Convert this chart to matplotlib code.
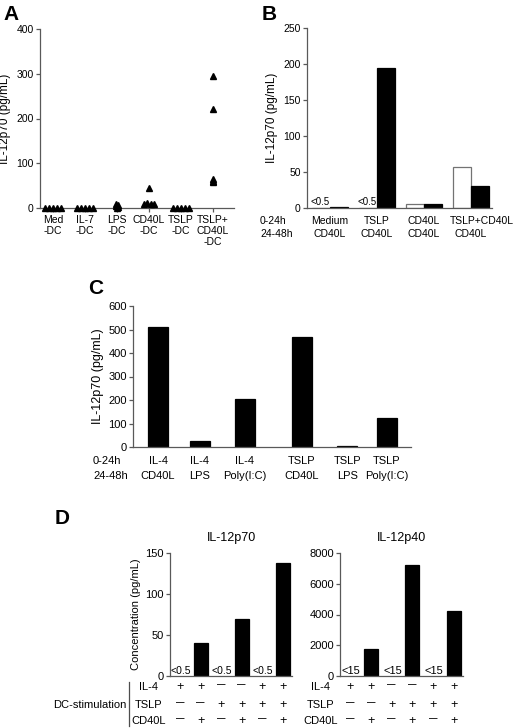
import matplotlib
matplotlib.use("Agg")
import matplotlib.pyplot as plt
import matplotlib.transforms as mtrans
import numpy as np

plt.rcParams['font.family'] = ['Liberation Sans', 'DejaVu Sans']
plt.rcParams['axes.linewidth'] = 0.9
plt.rcParams['axes.edgecolor'] = '0.35'

W, H = 520, 728

# ---- data ----
# A: IL-12p70 per DC condition (5 donors each)
a_labels = ['Med\n-DC', 'IL-7\n-DC', 'LPS\n-DC', 'CD40L\n-DC', 'TSLP\n-DC', 'TSLP+\nCD40L\n-DC']
a_values = [
    [0, 0, 0, 0, 0],
    [0, 0, 0, 0, 0],
    [10, 7, 4, 2, 1],
    [45, 10, 12, 8, 10],
    [0, 0, 0, 0, 0],
    [295, 222, 65, 60, 58],
]

# B: 0-24h / 24-48h, white = 0-24h supernatant, black = 24-48h
b_row1 = ['Medium', 'TSLP', 'CD40L', 'TSLP+CD40L']
b_row2 = ['CD40L', 'CD40L', 'CD40L', 'CD40L']
b_first = [0, 0, 5, 57]
b_second = [2, 195, 6, 30]
b_below = ['<0.5', '<0.5', None, None]

# C
c_row1 = ['IL-4', 'IL-4', 'IL-4', 'TSLP', 'TSLP', 'TSLP']
c_row2 = ['CD40L', 'LPS', 'Poly(I:C)', 'CD40L', 'LPS', 'Poly(I:C)']
c_values = [510, 25, 205, 470, 3, 122]

# D
d_il4 = ['+', '+', '−', '−', '+', '+']
d_tslp = ['−', '−', '+', '+', '+', '+']
d_cd40l = ['−', '+', '−', '+', '−', '+']
d_p70 = [None, 40, None, 70, None, 138]
d_p40 = [None, 1750, None, 7200, None, 4200]
d_p70_lod = '<0.5'
d_p40_lod = '<15'

# ---- layout helpers (pixel coords) ----
def rect(x0, y0, x1, y1):
    return [x0 / W, 1 - y1 / H, (x1 - x0) / W, (y1 - y0) / H]

def fy(py):
    return 1 - py / H

fig = plt.figure(figsize=(W / 100, H / 100), dpi=100)
fig.patch.set_facecolor('white')

def style(ax, fs=7.5):
    for s in ['top', 'right']:
        ax.spines[s].set_visible(False)
    ax.tick_params(axis='y', direction='out', length=3, width=0.9, color='0.35',
                   labelsize=fs, pad=1.5)
    ax.tick_params(axis='x', direction='out', length=3, width=0.9, color='0.35',
                   labelsize=fs, pad=2)

# ---- A ----
axA = fig.add_axes(rect(40, 29, 234, 208))
style(axA)
jit_spread = [-0.24, -0.12, 0, 0.12, 0.24]
jit_lps = [-0.02, 0.03, -0.03, 0.02, 0]
jit_cd40 = [0, -0.15, -0.05, 0.05, 0.15]
jit_center = [0, 0, 0, 0, 0]
jitters = [jit_spread, jit_spread, jit_lps, jit_cd40, jit_spread, jit_center]
for i, vals in enumerate(a_values):
    axA.plot(i + np.array(jitters[i]), vals, linestyle='none', marker='^',
             ms=5, color='black', clip_on=False, zorder=3)
axA.set_xlim(-0.41, 5.66)
axA.set_ylim(0, 400)
axA.set_yticks([0, 100, 200, 300, 400])
axA.set_xticks(range(6))
axA.set_xticklabels(a_labels, fontsize=7.5, linespacing=1.15)
axA.set_ylabel('IL-12p70 (pg/mL)', fontsize=8.5, labelpad=4)
fig.text(3 / W, fy(15), 'A', fontsize=15, fontweight='bold', va='center')

# ---- B ----
axB = fig.add_axes(rect(307, 28, 492, 208))
style(axB)
xb = np.arange(4)
bw = 0.38
axB.bar(xb - bw / 2, b_first, bw, color='white', edgecolor='0.45', linewidth=0.9)
axB.bar(xb + bw / 2, b_second, bw, color='black', edgecolor='black', linewidth=0.9)
for i, t in enumerate(b_below):
    if t:
        axB.text(xb[i] - bw / 2 - 0.02, 1, t, ha='center', va='bottom', fontsize=7)
axB.set_xlim(-0.49, 3.45)
axB.set_ylim(0, 250)
axB.set_yticks([0, 50, 100, 150, 200, 250])
axB.set_xticks([])
axB.set_ylabel('IL-12p70 (pg/mL)', fontsize=8.5, labelpad=4)
trB = mtrans.blended_transform_factory(axB.transData, fig.transFigure)
b_shift = [0, 0, 0, 0.23]
for i in range(4):
    fig.text(xb[i] + b_shift[i], fy(221), b_row1[i], transform=trB, ha='center', va='center', fontsize=7.5)
    fig.text(xb[i], fy(234), b_row2[i], transform=trB, ha='center', va='center', fontsize=7.5)
fig.text(260 / W, fy(221), '0-24h', ha='left', va='center', fontsize=7.5)
fig.text(260 / W, fy(234), '24-48h', ha='left', va='center', fontsize=7.5)
fig.text(262 / W, fy(15), 'B', fontsize=15, fontweight='bold', va='center')

# ---- C ----
axC = fig.add_axes(rect(133, 306, 411, 447))
style(axC, fs=8)
xc = np.array([0, 0.95, 1.97, 3.27, 4.3, 5.2])
axC.bar(xc, c_values, 0.45, color='black', edgecolor='black', linewidth=0.9)
axC.set_xlim(-0.57, 5.75)
axC.set_ylim(0, 600)
axC.set_yticks(range(0, 601, 100))
axC.set_xticks([])
axC.set_ylabel('IL-12p70 (pg/mL)', fontsize=9, labelpad=3)
trC = mtrans.blended_transform_factory(axC.transData, fig.transFigure)
for i in range(6):
    fig.text(xc[i], fy(461), c_row1[i], transform=trC, ha='center', va='center', fontsize=8)
    fig.text(xc[i], fy(476), c_row2[i], transform=trC, ha='center', va='center', fontsize=8)
fig.text(93 / W, fy(461), '0-24h', ha='left', va='center', fontsize=8)
fig.text(93 / W, fy(476), '24-48h', ha='left', va='center', fontsize=8)
fig.text(88 / W, fy(289), 'C', fontsize=15, fontweight='bold', va='center')

# ---- D ----
def panel_d(box, values, lod, ymax, yticks, title, ylabel, lab_x, lod_fs):
    ax = fig.add_axes(rect(*box))
    style(ax, fs=8)
    xd = np.arange(6)
    for i, v in enumerate(values):
        if v is None:
            ax.text(xd[i] + 0.05, ymax * 0.003, lod, ha='center', va='bottom', fontsize=lod_fs)
        else:
            ax.bar(xd[i], v, 0.68, color='black', edgecolor='black', linewidth=0.9)
    ax.set_xlim(-0.49, 5.45)
    ax.set_ylim(0, ymax)
    ax.set_yticks(yticks)
    ax.set_xticks([])
    ax.set_title(title, fontsize=9, pad=9)
    if ylabel:
        ax.set_ylabel(ylabel, fontsize=8, labelpad=3)
    tr = mtrans.blended_transform_factory(ax.transData, fig.transFigure)
    rows = [('IL-4', d_il4, 687), ('TSLP', d_tslp, 705), ('CD40L', d_cd40l, 721)]
    for name, signs, py in rows:
        fig.text(lab_x / W, fy(py), name, ha='center', va='center', fontsize=8)
        for i, s in enumerate(signs):
            if s == '+':
                fig.text(xd[i], fy(py), s, transform=tr, ha='center', va='center', fontsize=9)
            else:
                fig.text(xd[i], fy(py - 2.5), '–', transform=tr, ha='center', va='center',
                         fontsize=11, color='0.15')
    return ax

panel_d((170, 553, 292, 676), d_p70, d_p70_lod, 150, [0, 50, 100, 150],
        'IL-12p70', 'Concentration (pg/mL)', 149, 7.5)
panel_d((340, 553, 463, 676), d_p40, d_p40_lod, 8000, [0, 2000, 4000, 6000, 8000],
        'IL-12p40', None, 321, 8)
fig.add_artist(plt.Line2D([129 / W, 129 / W], [fy(682), fy(726)], color='0.3', lw=0.9))
fig.text(127 / W, fy(705), 'DC-stimulation', ha='right', va='center', fontsize=8)
fig.text(55 / W, fy(518), 'D', fontsize=15, fontweight='bold', va='center')

fig.savefig('out.png', dpi=100)
